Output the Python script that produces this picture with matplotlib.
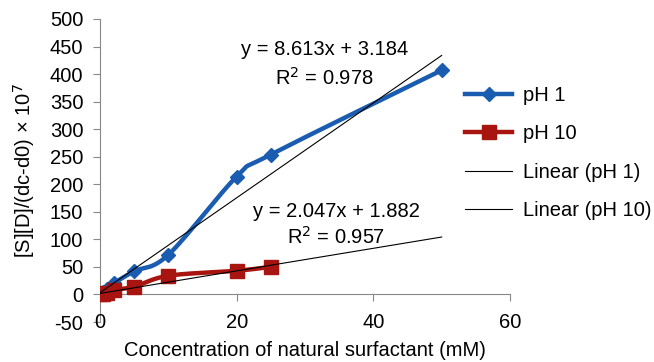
import matplotlib
matplotlib.use("Agg")
import matplotlib.pyplot as plt
import numpy as np

plt.rcParams['font.family'] = ['Liberation Sans', 'DejaVu Sans']
plt.rcParams['axes.unicode_minus'] = False

conc_ph1 = [0, 0.5, 1, 2, 5, 10, 20, 25, 50]
val_ph1 = [0, 4, 9, 20, 42, 72, 214, 254, 407]
conc_ph10 = [0, 0.5, 1, 2, 5, 10, 20, 25]
val_ph10 = [0, 1, 3, 8, 14, 34, 43, 50]

fit_ph1 = (8.613, 3.184, 0.978)
fit_ph10 = (2.047, 1.882, 0.957)
fit_range = [0, 50]

xticks = [0, 20, 40, 60]
yticks = list(range(-50, 501, 50))

blue = '#1a5cb0'
red = '#a81410'
FS = 14.5

fig = plt.figure(figsize=(6.54, 3.62), dpi=100)
ax = fig.add_axes([100/654, 40/362, 410/654, 303/362])
ax.set_xlim(0, 60)
ax.set_ylim(-50, 500)


def smooth(xs, ys, n=30):
    """Excel-like smoothed line: cubic Bezier through points, computed in display space."""
    pts = ax.transData.transform(np.column_stack([xs, ys]))
    out = [pts[0]]
    m = len(pts)
    for i in range(m - 1):
        p0 = pts[max(i - 1, 0)]
        p1 = pts[i]
        p2 = pts[i + 1]
        p3 = pts[min(i + 2, m - 1)]
        c1 = p1 + (p2 - p0) / 6.0
        c2 = p2 - (p3 - p1) / 6.0
        t = np.linspace(0, 1, n)[1:, None]
        seg = ((1 - t) ** 3) * p1 + 3 * ((1 - t) ** 2) * t * c1 + 3 * (1 - t) * t ** 2 * c2 + t ** 3 * p2
        out.extend(seg)
    out = np.array(out)
    d = ax.transData.inverted().transform(out)
    return d[:, 0], d[:, 1]


sx, sy = smooth(conc_ph1, val_ph1)
ax.plot(sx, sy, color=blue, lw=3.2, zorder=3, solid_capstyle='round')
ax.plot(conc_ph1, val_ph1, ls='none', color=blue, marker='D', ms=7, zorder=3)
sx, sy = smooth(conc_ph10, val_ph10)
ax.plot(sx, sy, color=red, lw=3.2, zorder=3, solid_capstyle='round')
ax.plot(conc_ph10, val_ph10, ls='none', color=red, marker='s', ms=10, zorder=3)

fx = np.array(fit_range)
ax.plot(fx, fit_ph1[0]*fx + fit_ph1[1], color='black', lw=0.8, zorder=4)
ax.plot(fx, fit_ph10[0]*fx + fit_ph10[1], color='black', lw=0.8, zorder=4)

# legend proxies
h1, = ax.plot([], [], color=blue, lw=3.2, marker='D', ms=7)
h2, = ax.plot([], [], color=red, lw=3.2, marker='s', ms=10)
h3, = ax.plot([], [], color='black', lw=0.8)
h4, = ax.plot([], [], color='black', lw=0.8)

ax.text(32.8, 444, f'y = {fit_ph1[0]}x + {fit_ph1[1]}', ha='center', va='center', fontsize=FS)
ax.text(32.8, 393, f'R$^2$ = {fit_ph1[2]}', ha='center', va='center', fontsize=FS)
ax.text(34.6, 150, f'y = {fit_ph10[0]}x + {fit_ph10[1]}', ha='center', va='center', fontsize=FS)
ax.text(34.6, 104, f'R$^2$ = {fit_ph10[2]}', ha='center', va='center', fontsize=FS)

for s in ['top', 'right']:
    ax.spines[s].set_visible(False)
ax.spines['bottom'].set_position(('data', 0))
ax.spines['bottom'].set_color('#888888')
ax.spines['left'].set_color('#888888')
ax.set_xticks(xticks)
ax.set_yticks(yticks)
ax.tick_params(axis='x', direction='out', length=5, color='#888888', labelbottom=False)
ax.tick_params(axis='y', direction='out', length=5, color='#888888', labelsize=FS, pad=7)
for t in xticks:
    ax.text(t, -50, str(t), ha='center', va='center', fontsize=FS)
ax.set_xlabel('Concentration of natural surfactant (mM)', fontsize=FS, va='center')
ax.xaxis.set_label_coords(0.5, -28/303)
ax.set_ylabel(r'[S][D]/(dc-d0) × 10$^7$', fontsize=FS)
ax.yaxis.set_label_coords(-0.154, 0.5)

fig.legend([h1, h2, h3, h4], ['pH 1', 'pH 10', 'Linear (pH 1)', 'Linear (pH 10)'],
           loc='center left',
           bbox_to_anchor=(465/654, 1 - 153/362), bbox_transform=fig.transFigure,
           frameon=False, fontsize=FS, labelspacing=0.95, handlelength=2.35,
           handletextpad=0.55, borderpad=0, borderaxespad=0)

fig.savefig('out.png', dpi=100)
